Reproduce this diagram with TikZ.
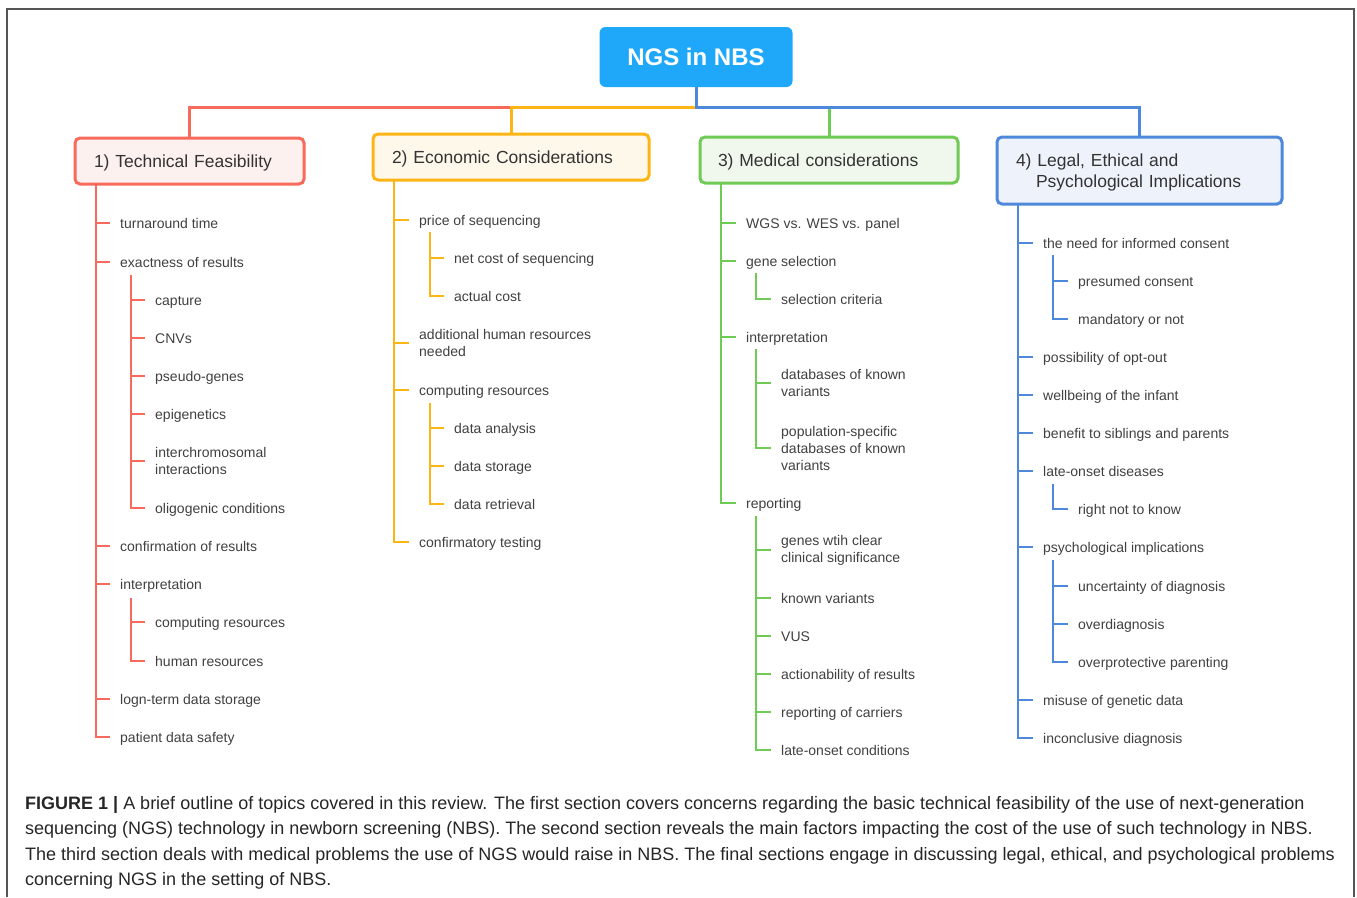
\documentclass[tikz,border=0pt]{standalone}
\usepackage{fontspec}
\setmainfont{Liberation Sans}
\definecolor{cred}{HTML}{F86B5C}
\definecolor{credf}{HTML}{FDF1EF}
\definecolor{corg}{HTML}{FDB515}
\definecolor{corgf}{HTML}{FEF8EA}
\definecolor{cgrn}{HTML}{6FCB55}
\definecolor{cgrnf}{HTML}{F0F8ED}
\definecolor{cblu}{HTML}{4D88DA}
\definecolor{cbluf}{HTML}{EEF3FB}
\definecolor{croot}{HTML}{1FA8FA}
\definecolor{ctxt}{HTML}{404040}
\definecolor{cframe}{HTML}{555555}
\begin{document}
\begin{tikzpicture}[x=1pt,y=-1pt,
  itmm/.style={anchor=west,inner sep=0pt,align=left,text=ctxt,font=\fontsize{14}{17}\selectfont},
  itm/.style={itmm,text height=10.2pt,text depth=0pt},
  hboxbase/.style={line width=3pt,rounded corners=5pt,text=black!80,
    font=\fontsize{17.5}{21}\selectfont,inner ysep=0pt},
  hbox/.style={hboxbase,align=left,text depth=0pt},
  rootbox/.style={fill=croot,rounded corners=6pt,text=white,
    font=\fontsize{24}{28}\selectfont\bfseries,minimum width=193pt,minimum height=60pt,inner sep=0pt},
  mainline/.style={line width=3pt},
  tree/.style={line width=2pt}
]
\useasboundingbox (0,0) rectangle (1357,897);
\draw[cframe,line width=1.3pt] (7,897) -- (7,9) -- (1354,9) -- (1354,897);

% root and headers
\node[rootbox] (root) at (696,57) {NGS in NBS};
\node[hbox,draw=cred,fill=credf,text width=191pt,inner xsep=19pt,minimum height=46pt] (h1) at (189.5,161) {1) Technical Feasibility};
\node[hbox,draw=corg,fill=corgf,text width=238pt,inner xsep=19pt,minimum height=46pt] (h2) at (511,157) {2) Economic Considerations};
\node[hbox,draw=cgrn,fill=cgrnf,text width=222pt,inner xsep=18pt,minimum height=46pt] (h3) at (829,160) {3) Medical considerations};
\node[hboxbase,draw=cblu,fill=cbluf,text width=247pt,inner xsep=19pt,minimum height=67pt] (h4) at (1139.5,170.5) {\raisebox{0pt}[\dimexpr\height+4pt\relax][\depth]{\begin{tabular}{@{}l@{}}4) Legal, Ethical and\\\hspace*{20pt}Psychological Implications\end{tabular}}};

\draw[mainline,cred] (root.south) -- ++(0,20) -| (h1.north);
\draw[mainline,corg] (root.south) -- ++(0,20) -| (h2.north);
\draw[mainline,cgrn] (root.south) -- ++(0,20) -| (h3.north);
\draw[mainline,cblu] (root.south) -- ++(0,20) -| (h4.north);

% column 1
\node[itm] (a1) at (120,223) {turnaround time};
\node[itm] (a2) at (120,262) {exactness of results};
\node[itm] (a21) at (155,300) {capture};
\node[itm] (a22) at (155,338) {CNVs};
\node[itm] (a23) at (155,376) {pseudo-genes};
\node[itm] (a24) at (155,414) {epigenetics};
\node[itmm] (a25) at (155,461) {interchromosomal\\interactions};
\node[itm] (a26) at (155,508) {oligogenic conditions};
\node[itm] (a3) at (120,546) {confirmation of results};
\node[itm] (a4) at (120,584) {interpretation};
\node[itm] (a41) at (155,622) {computing resources};
\node[itm] (a42) at (155,661) {human resources};
\node[itm] (a5) at (120,699) {logn-term data storage};
\node[itm] (a6) at (120,737) {patient data safety};
\coordinate (t1) at (96,184);
\coordinate (s12) at (131,275);
\coordinate (s14) at (131,598);
\foreach \c in {a1,a2,a3,a4,a5,a6} \draw[tree,cred] (t1) |- ([xshift=-10pt]\c.west);
\foreach \c in {a21,a22,a23,a24,a25,a26} \draw[tree,cred] (s12) |- ([xshift=-10pt]\c.west);
\foreach \c in {a41,a42} \draw[tree,cred] (s14) |- ([xshift=-10pt]\c.west);

% column 2
\node[itm] (b1) at (419,220) {price of sequencing};
\node[itm] (b11) at (454,258) {net cost of sequencing};
\node[itm] (b12) at (454,296) {actual cost};
\node[itmm] (b2) at (419,343) {additional human resources\\needed};
\node[itm] (b3) at (419,390) {computing resources};
\node[itm] (b31) at (454,428) {data analysis};
\node[itm] (b32) at (454,466) {data storage};
\node[itm] (b33) at (454,504) {data retrieval};
\node[itm] (b4) at (419,542) {confirmatory testing};
\coordinate (t2) at (394,180);
\coordinate (s21) at (430,232);
\coordinate (s23) at (430,403);
\foreach \c in {b1,b2,b3,b4} \draw[tree,corg] (t2) |- ([xshift=-10pt]\c.west);
\foreach \c in {b11,b12} \draw[tree,corg] (s21) |- ([xshift=-10pt]\c.west);
\foreach \c in {b31,b32,b33} \draw[tree,corg] (s23) |- ([xshift=-10pt]\c.west);

% column 3
\node[itm] (c1) at (746,223) {WGS vs. WES vs. panel};
\node[itm] (c2) at (746,261) {gene selection};
\node[itm] (c21) at (781,299) {selection criteria};
\node[itm] (c3) at (746,337) {interpretation};
\node[itmm] (c31) at (781,383) {databases of known\\variants};
\node[itmm] (c32) at (781,448) {population-specific\\databases of known\\variants};
\node[itm] (c4) at (746,503) {reporting};
\node[itmm] (c41) at (781,550) {genes wtih clear\\clinical significance};
\node[itm] (c42) at (781,598) {known variants};
\node[itm] (c43) at (781,636) {VUS};
\node[itm] (c44) at (781,674) {actionability of results};
\node[itm] (c45) at (781,712) {reporting of carriers};
\node[itm] (c46) at (781,750) {late-onset conditions};
\coordinate (t3) at (721,183);
\coordinate (s32) at (756,273);
\coordinate (s33) at (756,349);
\coordinate (s34) at (756,516);
\foreach \c in {c1,c2,c3,c4} \draw[tree,cgrn] (t3) |- ([xshift=-10pt]\c.west);
\foreach \c in {c21} \draw[tree,cgrn] (s32) |- ([xshift=-10pt]\c.west);
\foreach \c in {c31,c32} \draw[tree,cgrn] (s33) |- ([xshift=-10pt]\c.west);
\foreach \c in {c41,c42,c43,c44,c45,c46} \draw[tree,cgrn] (s34) |- ([xshift=-10pt]\c.west);

% column 4
\node[itm] (d1) at (1043,243) {the need for informed consent};
\node[itm] (d11) at (1078,281) {presumed consent};
\node[itm] (d12) at (1078,319) {mandatory or not};
\node[itm] (d2) at (1043,357) {possibility of opt-out};
\node[itm] (d3) at (1043,395) {wellbeing of the infant};
\node[itm] (d4) at (1043,433) {benefit to siblings and parents};
\node[itm] (d5) at (1043,471) {late-onset diseases};
\node[itm] (d51) at (1078,509) {right not to know};
\node[itm] (d6) at (1043,547) {psychological implications};
\node[itm] (d61) at (1078,586) {uncertainty of diagnosis};
\node[itm] (d62) at (1078,624) {overdiagnosis};
\node[itm] (d63) at (1078,662) {overprotective parenting};
\node[itm] (d7) at (1043,700) {misuse of genetic data};
\node[itm] (d8) at (1043,738) {inconclusive diagnosis};
\coordinate (t4) at (1018,204);
\coordinate (s41) at (1053,255);
\coordinate (s45) at (1053,484);
\coordinate (s46) at (1053,560);
\foreach \c in {d1,d2,d3,d4,d5,d6,d7,d8} \draw[tree,cblu] (t4) |- ([xshift=-10pt]\c.west);
\foreach \c in {d11,d12} \draw[tree,cblu] (s41) |- ([xshift=-10pt]\c.west);
\foreach \c in {d51} \draw[tree,cblu] (s45) |- ([xshift=-10pt]\c.west);
\foreach \c in {d61,d62,d63} \draw[tree,cblu] (s46) |- ([xshift=-10pt]\c.west);

% caption
\node[anchor=north west,inner sep=0pt,align=left,text=black!85,font=\fontsize{18}{25.5}\selectfont] (cap) at (25,796) {\textbf{FIGURE 1 |} A brief outline of topics covered in this review. The first section covers concerns regarding the basic technical feasibility of the use of next-generation\\
sequencing (NGS) technology in newborn screening (NBS). The second section reveals the main factors impacting the cost of the use of such technology in NBS.\\
The third section deals with medical problems the use of NGS would raise in NBS. The final sections engage in discussing legal, ethical, and psychological problems\\
concerning NGS in the setting of NBS.};
\end{tikzpicture}
\end{document}
